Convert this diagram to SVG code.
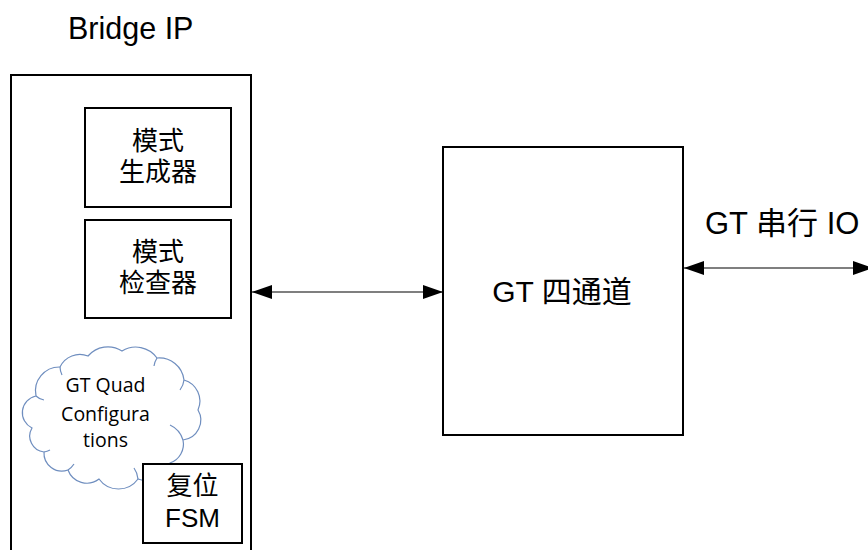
<svg xmlns="http://www.w3.org/2000/svg" width="868" height="550" viewBox="0 0 868 550">
  <defs>
    <marker id="ah" viewBox="0 0 20 14" refX="20" refY="7" markerWidth="20" markerHeight="14" markerUnits="userSpaceOnUse" orient="auto-start-reverse">
      <path d="M0,0 L20,7 L0,14 z" fill="#000"/>
    </marker>
    <style>
      .box { fill: #fff; stroke: #000; stroke-width: 2; }
      .t { font-family: "Liberation Sans", "Noto Sans CJK SC", sans-serif; fill: #000; }
      .c { font-family: "Open Sans", "Noto Sans", sans-serif; fill: #000; font-size: 19.5px; text-anchor: middle; }
      .conn { stroke: #000; stroke-width: 1.2; fill: none; }
      .cloud { fill: #fff; stroke: #6f8ebf; stroke-width: 1.2; }
    </style>
  </defs>
  <rect width="868" height="550" fill="#fff"/>

  <g id="bridge-ip">
    <text class="t" x="68" y="39" font-size="30.5">Bridge IP</text>
    <path d="M11,552 V75 H251 V552" fill="none" stroke="#000" stroke-width="2"/>
  </g>

  <g id="pattern-generator">
    <rect class="box" x="85" y="108" width="146" height="99"/>
    <text class="t" x="158" y="150" font-size="26" text-anchor="middle">模式</text>
    <text class="t" x="158" y="181" font-size="26" text-anchor="middle">生成器</text>
  </g>

  <g id="pattern-checker">
    <rect class="box" x="85" y="220" width="146" height="98"/>
    <text class="t" x="158" y="261" font-size="26" text-anchor="middle">模式</text>
    <text class="t" x="158" y="292" font-size="26" text-anchor="middle">检查器</text>
  </g>

  <g id="gt-quad-config">
    <path class="cloud" d="M32,428 A17,17 0 0 1 36,396 A24,24 0 0 1 60,367 A22,22 0 0 1 88,356 A26,26 0 0 1 122,351 A26,26 0 0 1 157,358 A25,25 0 0 1 184,380 A22,22 0 0 1 198,410 A20,20 0 0 1 183,440 A20,20 0 0 1 170,463 A24,24 0 0 1 138,479 A24,24 0 0 1 99,479 A20,20 0 0 1 68,470 A18,18 0 0 1 44,452 A16,16 0 0 1 32,428 z"/>
    <path d="M36,396 A15,15 0 0 0 44,400 M60,367 A20,20 0 0 0 62,375 M157,358 A20,20 0 0 0 154,366 M184,380 A20,20 0 0 1 180,390 M183,440 A24,24 0 0 0 170,425 M138,479 A22,22 0 0 0 134,468 M68,470 A20,20 0 0 0 74,464 M44,452 A18,18 0 0 0 50,450" fill="none" stroke="#6f8ebf" stroke-width="1.2"/>
    <text class="c" x="105.5" y="392">GT Quad</text>
    <text class="c" x="105.5" y="421">Configura</text>
    <text class="c" x="105.5" y="447">tions</text>
  </g>

  <g id="reset-fsm">
    <rect class="box" x="143" y="464" width="99" height="79"/>
    <text class="t" x="192.5" y="495" font-size="26" text-anchor="middle">复位</text>
    <text class="t" x="192.5" y="527" font-size="26" text-anchor="middle">FSM</text>
  </g>

  <g id="gt-quad">
    <rect class="box" x="443" y="147" width="240" height="288"/>
    <text class="t" x="562" y="301.5" font-size="30" text-anchor="middle">GT 四通道</text>
  </g>

  <g id="gt-serial-io-label">
    <text class="t" x="705" y="233.5" font-size="31">GT 串行 IO</text>
  </g>

  <g id="connectors">
    <line class="conn" x1="252" y1="292" x2="443" y2="292" marker-start="url(#ah)" marker-end="url(#ah)"/>
    <line class="conn" x1="684" y1="268" x2="873" y2="268" marker-start="url(#ah)" marker-end="url(#ah)"/>
  </g>
</svg>
